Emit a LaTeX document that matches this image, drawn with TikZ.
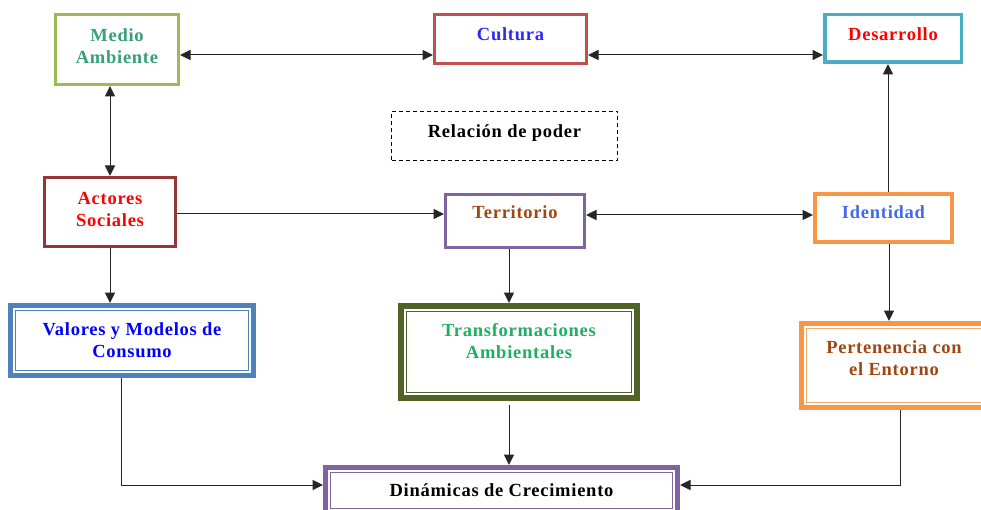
\documentclass[tikz,border=0pt]{standalone}
\usepackage{fontspec}
\setmainfont{Liberation Serif}[LetterSpace=4]
\usetikzlibrary{arrows.meta,calc}
\definecolor{maB}{RGB}{155,187,89}
\definecolor{maT}{RGB}{55,160,120}
\definecolor{cuB}{RGB}{192,80,77}
\definecolor{cuT}{RGB}{40,40,255}
\definecolor{deB}{RGB}{75,172,198}
\definecolor{acB}{RGB}{149,55,53}
\definecolor{teB}{RGB}{128,100,162}
\definecolor{teT}{RGB}{160,70,20}
\definecolor{idB}{RGB}{247,150,70}
\definecolor{idT}{RGB}{65,105,240}
\definecolor{vaB}{RGB}{79,129,189}
\definecolor{trB}{RGB}{79,98,40}
\definecolor{trT}{RGB}{30,176,96}
\newcommand{\lift}[2]{\raisebox{#1}[0pt][0pt]{#2}}
\begin{document}
\begin{tikzpicture}[x=1pt,y=-1pt,
  bx/.style={draw, line width=3pt, inner sep=0pt, align=center,
    font=\bfseries\fontsize{18.5}{22}\selectfont},
  conn/.style={line width=1pt, draw=black!85, -{Triangle[length=10.5pt,width=10pt]}},
  bconn/.style={line width=1pt, draw=black!85, {Triangle[length=10.5pt,width=10pt]}-{Triangle[length=10.5pt,width=10pt]}},
  inner/.style={line width=1.5pt},
]
\useasboundingbox (0,0) rectangle (981,510);
\clip (0,0) rectangle (981,510);

% top row
\node[bx, draw=maB, text=maT, minimum width=123pt, minimum height=70pt] (ma) at (117,49.5)
  {Medio\\Ambiente\rule[-6pt]{0pt}{6pt}};
\node[bx, draw=cuB, text=cuT, minimum width=152pt, minimum height=49pt] (cu) at (510.5,39)
  {\lift{-2pt}{Cultura}};
\node[bx, draw=deB, line width=3.5pt, text=red, minimum width=136.5pt, minimum height=47.5pt] (de) at (893,38.5)
  {\lift{-2.5pt}{Desarrollo}};

% relation
\node[bx, draw=black, line width=1.3pt, dash pattern=on 4pt off 3pt, text=black,
  minimum width=226pt, minimum height=49pt] (rp) at (504.5,136)
  {\lift{-2pt}{Relación de poder}};

% middle row
\node[bx, draw=acB, line width=3.3pt, text=red, minimum width=130.7pt, minimum height=68.7pt] (ac) at (110,212)
  {Actores\\Sociales\rule[-6pt]{0pt}{6pt}};
\node[bx, draw=teB, text=teT, minimum width=139pt, minimum height=53pt] (te) at (515,221)
  {\lift{2pt}{Territorio}};
\node[bx, draw=idB, line width=4pt, text=idT, minimum width=137pt, minimum height=48pt] (id) at (883.5,218)
  {\lift{-1pt}{Identidad}};

% lower row (double borders)
\node[bx, draw=vaB, line width=5pt, text=blue, minimum width=243pt, minimum height=70pt] (va) at (132,340.5)
  {Valores y Modelos de\\Consumo};
\draw[inner, draw=vaB] ([shift={(7.5,7.5)}]va.north west) rectangle ([shift={(-7.5,-7.5)}]va.south east);

\node[bx, draw=trB, line width=6pt, text=trT, minimum width=236pt, minimum height=92pt] (tr) at (519,352)
  {Transformaciones\\Ambientales\\\mbox{}};
\draw[inner, draw=trB] ([shift={(8.5,8.5)}]tr.north west) rectangle ([shift={(-8.5,-8.5)}]tr.south east);

\node[bx, draw=idB, line width=5pt, text=teT, minimum width=185pt, minimum height=84pt] (pe) at (894,365.5)
  {\rule{0pt}{19pt}Pertenencia con\\el Entorno\\\mbox{}};
\draw[inner, draw=idB!80] ([shift={(7.5,7.5)}]pe.north west) rectangle ([shift={(-7.5,-7.5)}]pe.south east);

\node[bx, draw=teB, line width=5pt, text=black, minimum width=352pt, minimum height=46pt] (di) at (501.5,490.5)
  {Dinámicas de Crecimiento};
\draw[inner, draw=teB] ([shift={(7.5,7.5)}]di.north west) rectangle ([shift={(-7.5,-7.5)}]di.south east);

% connectors
\draw[bconn] ([yshift=-5.5pt]ma.east) -- ([yshift=-5.5pt]ma.east -| cu.west);
\draw[bconn] ([yshift=-16pt]cu.east) -- ([yshift=-16pt]cu.east -| de.west);
\draw[bconn] (ac.north) -- (ac.north |- ma.south);
\draw[conn] ([yshift=-2pt]ac.east) -- ([yshift=-2pt]ac.east -| te.west);
\draw[bconn] ([yshift=6pt]te.east) -- ([yshift=6pt]te.east -| id.west);
\draw[conn] ([xshift=4.5pt]id.north) -- ([xshift=4.5pt]id.north |- de.south);
\draw[conn] (ac.south) -- (ac.south |- va.north);
\draw[conn] ([xshift=-6pt]te.south) -- ([xshift=-6pt]te.south |- tr.north);
\draw[conn] ([xshift=5.5pt]id.south) -- ([xshift=5.5pt]id.south |- pe.north);
\draw[conn] ([xshift=-10pt,yshift=-4pt]tr.south) -- ([xshift=-10pt]tr.south |- di.north);
\draw[conn] ([xshift=-11pt]va.south) |- ([yshift=5.5pt]di.west);
\draw[conn] ([xshift=6pt]pe.south) |- ([yshift=5.5pt]di.east);
\end{tikzpicture}
\end{document}
